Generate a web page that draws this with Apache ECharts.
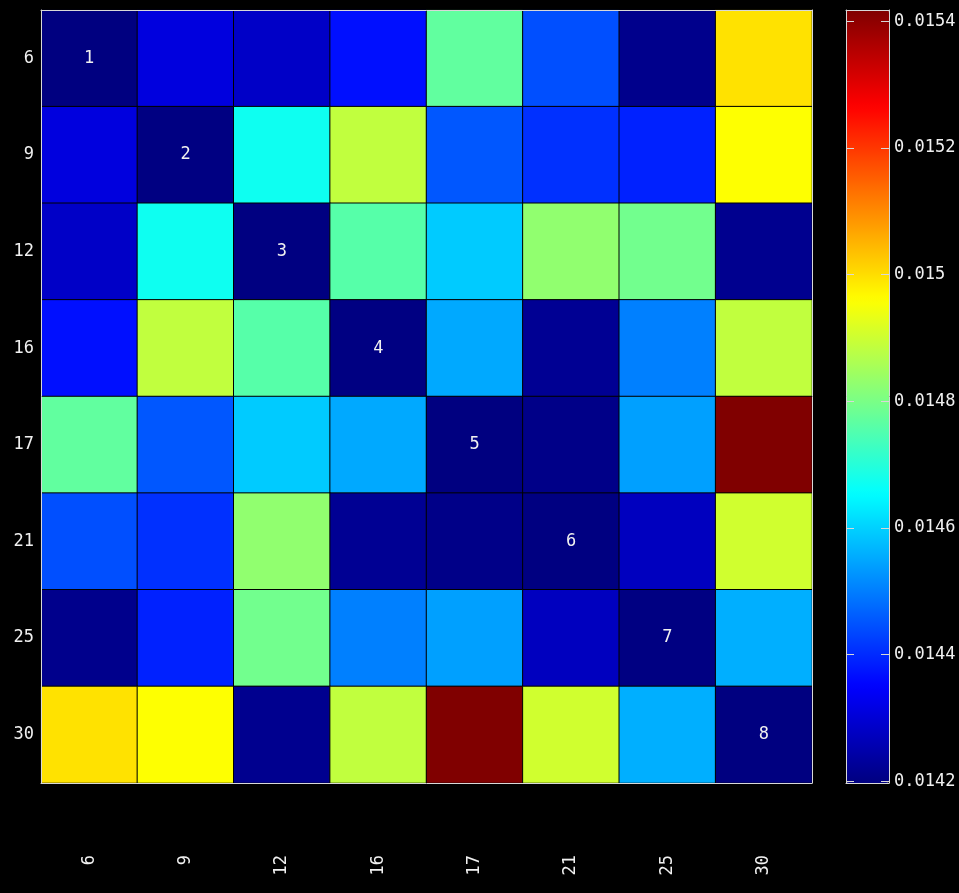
<!DOCTYPE html>
<html>
<head>
<meta charset="utf-8">
<script src="https://cdn.jsdelivr.net/npm/echarts@6/dist/echarts.min.js"></script>
<style>
html,body{margin:0;padding:0;background:#000;}
#c{width:959px;height:893px;}
</style>
</head>
<body>
<div id="c"></div>
<script>
// ---- data ----
var rowLabels = ['6','9','12','16','17','21','25','30'];
var colLabels = ['6','9','12','16','17','21','25','30'];
var diagLabels = ['1','2','3','4','5','6','7','8'];
var row0 = [0.014197, 0.014310, 0.014282, 0.014368, 0.014770, 0.014444, 0.014212, 0.014995];
var row1 = [0.014310, 0.014200, 0.014672, 0.014886, 0.014453, 0.014407, 0.014389, 0.014959];
var row2 = [0.014282, 0.014672, 0.014198, 0.014758, 0.014592, 0.014828, 0.014791, 0.014215];
var row3 = [0.014368, 0.014886, 0.014758, 0.014199, 0.014551, 0.014220, 0.014502, 0.014886];
var row4 = [0.014770, 0.014453, 0.014592, 0.014551, 0.014197, 0.014207, 0.014541, 0.015418];
var row5 = [0.014444, 0.014407, 0.014828, 0.014220, 0.014207, 0.014198, 0.014273, 0.014904];
var row6 = [0.014212, 0.014389, 0.014791, 0.014502, 0.014541, 0.014273, 0.014200, 0.014559];
var row7 = [0.014995, 0.014959, 0.014215, 0.014886, 0.015418, 0.014904, 0.014559, 0.014197];
var rows = [row0, row1, row2, row3, row4, row5, row6, row7];
var colorMin = 0.014197;
var colorMax = 0.015418;
var cbTicks = [0.0142, 0.0144, 0.0146, 0.0148, 0.0150, 0.0152, 0.0154];
var jet = ['#000080','#0000ff','#0080ff','#00ffff','#80ff80','#ffff00','#ff8000','#ff0000','#800000'];

// ---- build ----
var FONT = 'DejaVu Sans Mono';
var data = [];
for (var i = 0; i < rows.length; i++) {
  for (var j = 0; j < rows[i].length; j++) {
    var item = { value: [j, i, rows[i][j]] };
    if (i === j) {
      item.label = { show: true, formatter: diagLabels[i] };
    }
    data.push(item);
  }
}

var lineCol = '#d8d8d8';
var chart = echarts.init(document.getElementById('c'));
chart.setOption({
  backgroundColor: '#000',
  animation: false,
  grid: [
    { left: 41, top: 10, width: 771, height: 773, show: false },
    { left: 846, top: 10, width: 43, height: 773, show: false }
  ],
  xAxis: [
    { gridIndex: 0, type: 'category', data: colLabels, position: 'bottom', z: 10,
      axisLine: { show: true, lineStyle: { color: lineCol, width: 1 } },
      axisTick: { show: false },
      splitLine: { show: false },
      axisLabel: { color: '#f0f0f0', rotate: 90, margin: 72, fontFamily: FONT, fontSize: 17 } },
    { gridIndex: 0, type: 'category', data: colLabels, position: 'top', z: 10,
      axisLine: { show: true, lineStyle: { color: lineCol, width: 1 } },
      axisTick: { show: false }, axisLabel: { show: false }, splitLine: { show: false } },
    { gridIndex: 1, type: 'category', data: [''], position: 'bottom', z: 10,
      axisLine: { show: true, lineStyle: { color: lineCol, width: 1 } },
      axisTick: { show: false }, axisLabel: { show: false }, splitLine: { show: false } },
    { gridIndex: 1, type: 'category', data: [''], position: 'top', z: 10,
      axisLine: { show: true, lineStyle: { color: lineCol, width: 1 } },
      axisTick: { show: false }, axisLabel: { show: false }, splitLine: { show: false } }
  ],
  yAxis: [
    { gridIndex: 0, type: 'category', data: rowLabels, inverse: true, position: 'left', z: 10,
      axisLine: { show: true, lineStyle: { color: lineCol, width: 1 } },
      axisTick: { show: false },
      splitLine: { show: false },
      axisLabel: { color: '#f0f0f0', margin: 7, fontFamily: FONT, fontSize: 17 } },
    { gridIndex: 0, type: 'category', data: rowLabels, inverse: true, position: 'right', z: 10,
      axisLine: { show: true, lineStyle: { color: lineCol, width: 1 } },
      axisTick: { show: false }, axisLabel: { show: false }, splitLine: { show: false } },
    { gridIndex: 1, type: 'value', min: colorMin, max: colorMax, position: 'right', z: 10,
      axisLine: { show: true, lineStyle: { color: lineCol, width: 1 } },
      axisTick: { show: true, inside: true, length: 8, customValues: cbTicks, lineStyle: { color: lineCol } },
      splitLine: { show: false },
      axisLabel: { color: '#f0f0f0', margin: 5, fontFamily: FONT, fontSize: 17, customValues: cbTicks,
        showMinLabel: true, showMaxLabel: true,
        formatter: function (v) { return String(+(+v).toFixed(4)); } } },
    { gridIndex: 1, type: 'value', min: colorMin, max: colorMax, position: 'left', z: 10,
      axisLine: { show: true, lineStyle: { color: lineCol, width: 1 } },
      axisTick: { show: true, inside: true, length: 8, customValues: cbTicks, lineStyle: { color: lineCol } },
      splitLine: { show: false },
      axisLabel: { show: false } }
  ],
  visualMap: {
    type: 'continuous',
    min: colorMin,
    max: colorMax,
    calculable: false,
    hoverLink: false,
    orient: 'vertical',
    left: 846,
    top: 10,
    padding: 0,
    itemWidth: 43,
    itemHeight: 773,
    text: null,
    seriesIndex: 0,
    inRange: { color: jet },
    textStyle: { color: '#fff' }
  },
  series: [{
    type: 'heatmap',
    xAxisIndex: 0,
    yAxisIndex: 0,
    data: data,
    itemStyle: { borderColor: '#000', borderWidth: 1 },
    label: { show: false, color: '#f0f0f0', fontFamily: FONT, fontSize: 17 },
    emphasis: { disabled: true }
  }]
});
</script>
</body>
</html>
